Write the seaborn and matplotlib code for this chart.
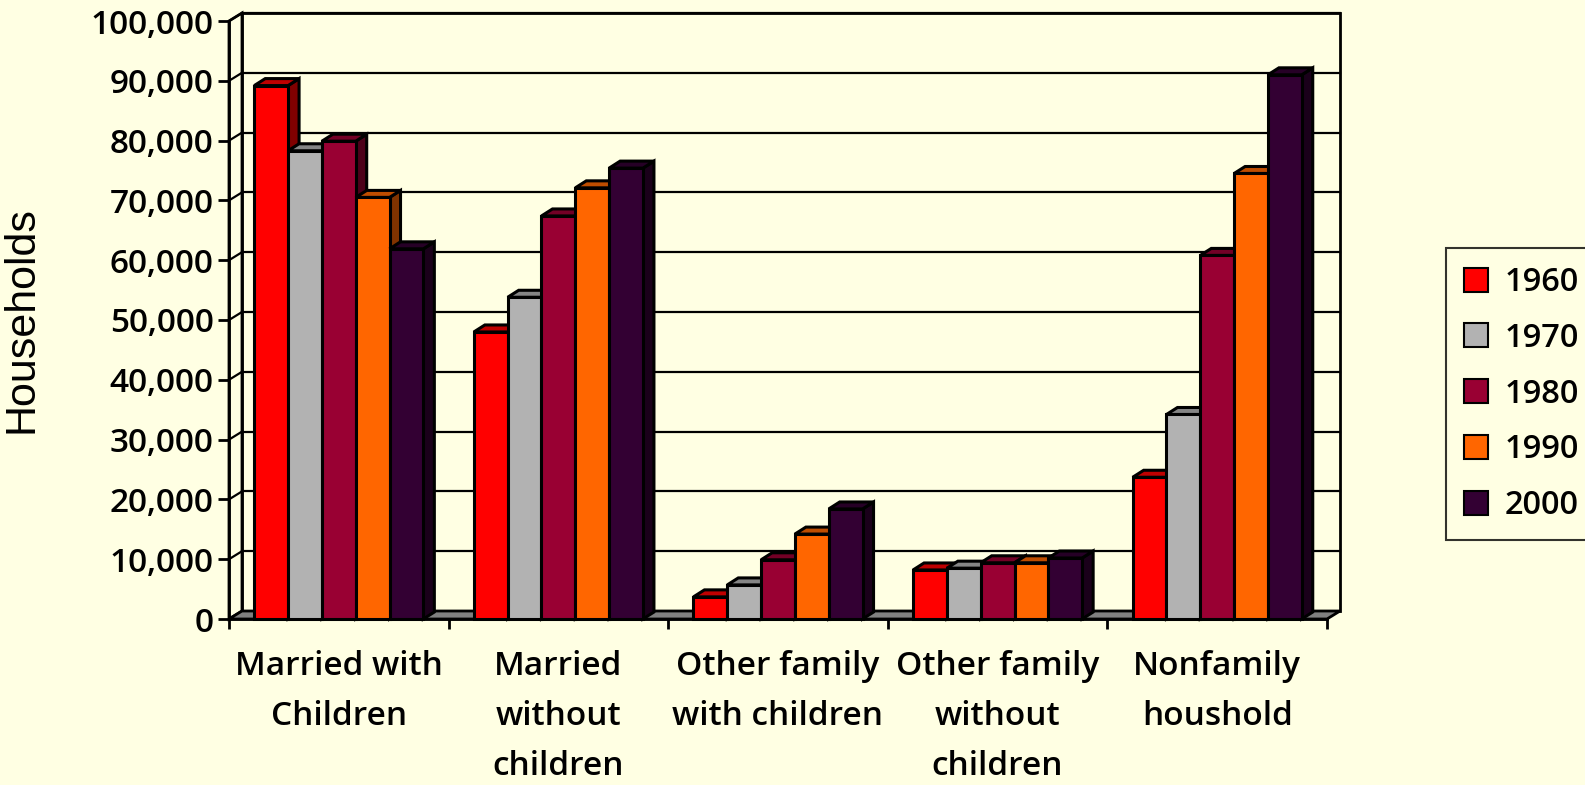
import matplotlib
matplotlib.use("Agg")
import matplotlib.pyplot as plt
from matplotlib.patches import Polygon, Patch
from matplotlib.ticker import StrMethodFormatter, FixedLocator
import numpy as np
import pandas as pd
import seaborn as sns

# values (households)
categories = ["Married with\nChildren", "Married\nwithout\nchildren",
              "Other family\nwith children", "Other family\nwithout\nchildren",
              "Nonfamily\nhoushold"]
years = ["1960", "1970", "1980", "1990", "2000"]
hh_1960 = [89200, 48000, 3700, 8200, 23700]
hh_1970 = [78300, 53800, 5700, 8500, 34200]
hh_1980 = [79900, 67400, 9900, 9400, 60800]
hh_1990 = [70500, 72100, 14200, 9400, 74500]
hh_2000 = [61900, 75400, 18400, 10200, 91000]
colors = ["#FF0000", "#B2B2B2", "#990033", "#FF6600", "#330033"]
yticks = list(range(0, 100001, 10000))

BG = "#FFFFE3"
plt.rcParams["font.family"] = ["Open Sans", "DejaVu Sans"]

rows = []
for yr, vals in zip(years, [hh_1960, hh_1970, hh_1980, hh_1990, hh_2000]):
    for cat, v in zip(categories, vals):
        rows.append({"category": cat, "year": yr, "households": v})
df = pd.DataFrame(rows)

W, H = 1585, 785
fig = plt.figure(figsize=(W / 100, H / 100), dpi=100, facecolor=BG)
ax_l, ax_b, ax_w, ax_h = 229, 166, 1098, 598
ax = fig.add_axes([ax_l / W, ax_b / H, ax_w / W, ax_h / H])

sns.barplot(data=df, x="category", y="households", hue="year",
            order=categories, hue_order=years, palette=colors, saturation=1,
            width=0.77, edgecolor="black", linewidth=2.2, errorbar=None,
            legend=False, ax=ax)

x0, x1, ymax = -0.5, 4.5, 100000
ax.set_xlim(x0, x1)
ax.set_ylim(0, ymax)
ax.patch.set_visible(False)

# pixel -> data conversions for the fake 3D depth
px_x = (x1 - x0) / ax_w
px_y = ymax / ax_h
wdx, wdy = 13 * px_x, 8 * px_y     # walls / floor
bdx, bdy = 11 * px_x, 7 * px_y     # bars


def shade(c, f):
    r, g, b, a = c
    return (r * f, g * f, b * f, 1)


bars = sorted(ax.patches, key=lambda p: p.get_x())
for i, p in enumerate(bars):
    z = 2 + i * 0.01
    x, w, h = p.get_x(), p.get_width(), p.get_height()
    fc = p.get_facecolor()
    side = Polygon([(x + w, 0), (x + w + bdx, bdy), (x + w + bdx, h + bdy), (x + w, h)],
                   closed=True, fc=shade(fc, 0.5), ec="black", lw=2.2, zorder=z,
                   clip_on=False, joinstyle="miter")
    top = Polygon([(x, h), (x + bdx, h + bdy), (x + w + bdx, h + bdy), (x + w, h)],
                  closed=True, fc=shade(fc, 0.75), ec="black", lw=2.2, zorder=z + 0.001,
                  clip_on=False, joinstyle="miter")
    ax.add_patch(side)
    ax.add_patch(top)
    p.set_zorder(z + 0.005)
    p.set_clip_on(False)

# back wall, left wall, floor
ax.add_patch(Polygon([(x0 + wdx, wdy), (x1 + wdx, wdy), (x1 + wdx, ymax + wdy),
                      (x0 + wdx, ymax + wdy)], fc=BG, ec="black", lw=2,
                     zorder=0.5, clip_on=False))
ax.add_patch(Polygon([(x0, 0), (x0 + wdx, wdy), (x0 + wdx, ymax + wdy), (x0, ymax)],
                     fc=BG, ec="black", lw=2, zorder=0.55, clip_on=False))
for t in yticks[1:]:
    ax.plot([x0 + wdx, x1 + wdx], [t + wdy, t + wdy], color="black", lw=1.6,
            zorder=0.6, clip_on=False)
    ax.plot([x0, x0 + wdx], [t, t + wdy], color="black", lw=1.6,
            zorder=0.6, clip_on=False)
ax.add_patch(Polygon([(x0, 0), (x1, 0), (x1 + wdx, wdy), (x0 + wdx, wdy)],
                     fc="#808080", ec="black", lw=2, zorder=0.7, clip_on=False))

# axes cosmetics
for s in ["top", "right"]:
    ax.spines[s].set_visible(False)
for s in ["left", "bottom"]:
    ax.spines[s].set_linewidth(2)
    ax.spines[s].set_zorder(5)
ax.set_yticks(yticks)
ax.yaxis.set_major_formatter(StrMethodFormatter("{x:,.0f}"))
ax.tick_params(axis="y", length=8, width=2, pad=3, labelsize=24)
for lab in ax.get_yticklabels():
    lab.set_fontweight("semibold")
ax.xaxis.set_minor_locator(FixedLocator(np.arange(x0, x1 + 0.01, 1)))
ax.tick_params(axis="x", which="major", length=0, pad=22, labelsize=24)
ax.tick_params(axis="x", which="minor", length=7, width=2)
for lab in ax.get_xticklabels():
    lab.set_linespacing(1.68)
    lab.set_verticalalignment("top")
    lab.set_fontweight("semibold")
ax.set_xlabel("")
ax.set_ylabel("")

fig.text(22 / W, 1 - 320 / H, "Households", rotation=90, ha="center", va="center",
         fontsize=31, family=["Liberation Sans", "DejaVu Sans"])

handles = [Patch(facecolor=c, edgecolor="black", linewidth=1.5) for c in colors]
leg = fig.legend(handles, years, loc="upper left",
                 bbox_to_anchor=(1446 / W, 1 - 248 / H), frameon=True,
                 fancybox=False, edgecolor="black", facecolor=BG,
                 prop={"size": 23.5, "weight": "semibold"},
                 handlelength=0.75, handleheight=0.75, handletextpad=0.5,
                 labelspacing=0.7, borderpad=0.55, borderaxespad=0)
leg.get_frame().set_linewidth(1.5)

fig.savefig("out.png", dpi=100, facecolor=BG)
